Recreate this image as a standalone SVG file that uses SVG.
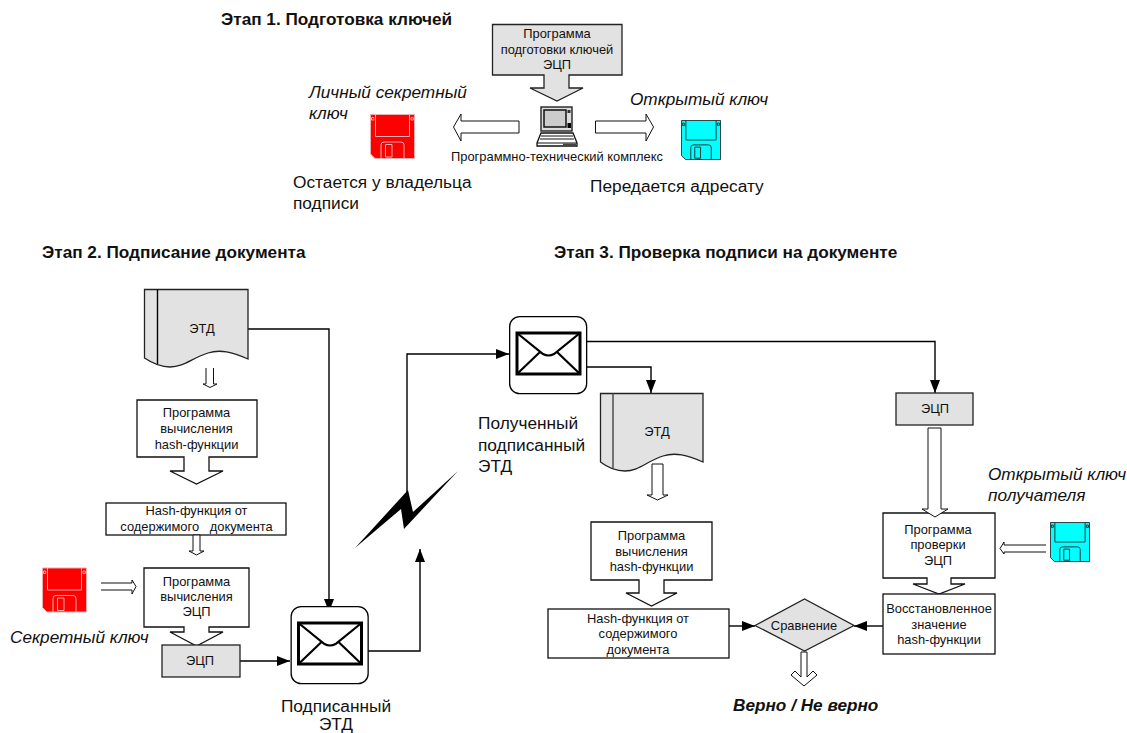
<svg xmlns="http://www.w3.org/2000/svg" width="1127" height="733" viewBox="0 0 1127 733">
<style>
text{font-family:"Liberation Sans",Arial,sans-serif;fill:#111}
.s{font-size:12.9px;text-anchor:middle}
.m{font-size:17.300px}
.i{font-size:17.200px;font-style:italic}
.h{font-size:17.200px;font-weight:bold}
.box{fill:#fff;stroke:#111;stroke-width:1.3}
.grey{fill:#e2e2e2;stroke:#222;stroke-width:1.3}
.ba{fill:#fff;stroke:#111;stroke-width:1}
.line{fill:none;stroke:#000;stroke-width:1.4}
.env{fill:#fff;stroke:#000;stroke-width:1.3}
.envb{fill:none;stroke:#000;stroke-width:2.2}
.envf{fill:none;stroke:#000;stroke-width:3}
</style>
<defs>
<marker id="arr" markerUnits="userSpaceOnUse" markerWidth="14" markerHeight="10" refX="13" refY="5" orient="auto"><path d="M0,0 L13,5 L0,10 Z" fill="#000"/></marker>
<symbol id="floppy" viewBox="0 0 45 45">
<path d="M.5,.5 H44.5 V44.5 H5 L.5,40 Z"/>
<path d="M5.5,.5 V22.5 H39.5 V.5 M11,44.5 V31 Q11,28 14,28 H31 Q34,28 34,31 V44.5 M15.5,30.5 H22 V43 H15.5 Z M1.5,3.5 H3.8 V6 H1.5 Z M41,3.5 H43.3 V6 H41 Z" fill="none"/>
</symbol>
<g id="letter">
<rect x=".65" y=".65" width="77" height="77" rx="10" class="env"/>
<rect x="8" y="17" width="63" height="41" class="envf"/>
<path d="M8,17 L34,38 Q39.500,41 45,38 L71,17 M8,58 L31,36 M71,58 L48,36" class="envb"/>
</g>
</defs>
<rect width="1127" height="733" fill="#fff"/>

<text class="h" x="221" y="25">Этап 1. Подготовка ключей</text>
<text class="h" x="42" y="258">Этап 2. Подписание документа</text>
<text class="h" x="554" y="258">Этап 3. Проверка подписи на документе</text>

<g id="connectors">
<path class="line" marker-end="url(#arr)" d="M248,329 H329 V612"/>
<path class="line" marker-end="url(#arr)" d="M240,661 H290"/>
<path class="line" marker-end="url(#arr)" d="M368,651 H420 V549"/>
<path class="line" marker-end="url(#arr)" d="M407,492 V354 H509"/>
<path class="line" marker-end="url(#arr)" d="M587,341.500 H935 V393"/>
<path class="line" marker-end="url(#arr)" d="M587,367 H651 V393"/>
<path class="line" marker-end="url(#arr)" d="M729,626 H755"/>
<path class="line" marker-end="url(#arr)" d="M883,626 H854"/>
</g>

<g id="keyprog">
<path class="grey" d="M492.500,24.500 H622 V75 H569 V88 H583 L557,101 L530,88 H544 V75 H492.500 Z"/>
<text class="s" x="557" y="38">Программа</text>
<text class="s" x="557" y="54">подготовки ключей</text>
<text class="s" x="557" y="69">ЭЦП</text>
</g>
<g id="computer">
<rect x="541" y="107" width="31" height="24" fill="#ddd" stroke="#222" stroke-width="1.400"/>
<rect x="544" y="110" width="22" height="17" fill="#ccc" stroke="#111" stroke-width="1.500"/>
<rect x="567.500" y="110" width="3" height="3" fill="#333"/>
<rect x="567.500" y="123" width="3.500" height="5" fill="#000"/>
<path d="M541,133 H573 L577,143 V146 H537 V143 Z" fill="#fff" stroke="#111" stroke-width="1.300"/>
<path d="M541,136 H573 M540,139 H574 M537,143 H577" stroke="#111" fill="none"/>
<rect x="563" y="143.500" width="13" height="2.500" fill="#444"/>
<text class="s" x="557" y="161">Программно-технический комплекс</text>
</g>
<polygon id="arrow-left-key" class="ba" points="519,121 461,121 461,114 453.500,127 461,141 461,133 519,133"/>
<polygon id="arrow-right-key" class="ba" points="595.500,121 646,121 646,114 653.500,127 646,141 646,133 595.500,133"/>
<g id="secret-key">
<use href="#floppy" x="370" y="114" width="45" height="45" fill="#f00" stroke="#e8b0b0"/>
<text class="i" x="309" y="98">Личный секретный</text>
<text class="i" x="309" y="119">ключ</text>
<text class="m" x="293" y="188">Остается у владельца</text>
<text class="m" x="293" y="209">подписи</text>
</g>
<g id="open-key">
<use href="#floppy" x="681" y="120" width="40" height="40" fill="#00ffff" stroke="#222"/>
<text class="i" x="630" y="105">Открытый ключ</text>
<text class="m" x="590" y="192">Передается адресату</text>
</g>

<g id="doc1">
<path class="grey" d="M144.500,289.500 H248 V359 C232,352 220,349 208,353 C192,358 184,367 170,367 C160,367 152,363 144.500,358 Z"/>
<path class="line" d="M157.500,289.500 V364"/>
<text class="s" x="202" y="333">ЭТД</text>
</g>
<path id="arrow-doc1" class="ba" d="M206,368 V384 H203 L210,387.500 L217,384 H213.500 V368 M206,368"/>
<g id="hash-prog1">
<path class="box" d="M137,400 H257 V457 H209 V471 H223 L196.500,484 L170,471 H184 V457 H137 Z"/>
<text class="s" x="196.500" y="417">Программа</text>
<text class="s" x="196.500" y="433">вычисления</text>
<text class="s" x="196.500" y="449">hash-функции</text>
</g>
<g id="hash1">
<rect class="box" x="106" y="503" width="180" height="32"/>
<text class="s" x="196.500" y="515">Hash-функция от</text>
<text class="s" x="196.500" y="531" xml:space="preserve">содержимого   документа</text>
</g>
<polygon id="arrow-hash1" class="ba" points="193,535 200,535 200,551 204,551 196.500,555 189,551 193,551"/>
<g id="secret-key2">
<use href="#floppy" x="42" y="567" width="45" height="46" fill="#f00" stroke="#e8b0b0"/>
<text class="i" x="10" y="643">Секретный ключ</text>
</g>
<path id="arrow-secret" class="ba" d="M101,583 H132 V580 L136,586.500 L132,594 V590 H101"/>
<g id="ecp-prog">
<path class="box" d="M144,568 H249 V627 H209 V632 H223 L196.500,646 L170,632 H184 V627 H144 Z"/>
<text class="s" x="196.500" y="586">Программа</text>
<text class="s" x="196.500" y="601">вычисления</text>
<text class="s" x="196.500" y="616">ЭЦП</text>
</g>
<g id="ecp1">
<rect class="grey" x="162" y="645" width="78" height="32"/>
<text class="s" x="200" y="665">ЭЦП</text>
</g>
<g id="signed">
<use href="#letter" x="290.500" y="606"/>
<text class="m" x="336" y="712" text-anchor="middle">Подписанный</text>
<text class="m" x="336" y="730" text-anchor="middle">ЭТД</text>
</g>
<polygon id="lightning" points="355,548 408,490 413,512 458,471 404,529 401,509" fill="#000"/>

<g id="received">
<use href="#letter" x="509" y="316"/>
<text class="m" x="478" y="429">Полученный</text>
<text class="m" x="478" y="451">подписанный</text>
<text class="m" x="478" y="472">ЭТД</text>
</g>
<g id="doc2">
<path class="grey" d="M600.500,393.500 H703 V462 C687,455 675,452 663,456 C647,461 639,471 625,471 C615,471 607,467 600.500,462 Z"/>
<path class="line" style="stroke:#444" d="M613,393.500 V468"/>
<text class="s" x="657" y="436">ЭТД</text>
</g>
<polygon id="arrow-doc2" class="ba" points="652,464 663,464 663,495 668,495 657.500,500 647,495 652,495"/>
<g id="hash-prog2">
<path class="box" d="M591,522 H712 V580 H664 V593 H677 L651.500,606 L626,593 H639 V580 H591 Z"/>
<text class="s" x="651.500" y="540">Программа</text>
<text class="s" x="651.500" y="556">вычисления</text>
<text class="s" x="651.500" y="571">hash-функции</text>
</g>
<g id="hash2">
<rect class="box" x="548" y="609" width="181" height="49"/>
<text class="s" x="638" y="623">Hash-функция от</text>
<text class="s" x="638" y="638">содержимого</text>
<text class="s" x="638" y="654">документа</text>
</g>
<g id="compare">
<polygon class="grey" points="755,625.500 804.500,599 854,625.500 804.500,651"/>
<text class="s" x="804" y="630">Сравнение</text>
</g>
<polygon id="arrow-result" class="ba" points="801,652 807,652 807,677 813,671 817,675 804,686 791,675 795,671 801,677"/>
<text id="result" x="733" y="711" font-size="17.200" font-weight="bold" font-style="italic">Верно / Не верно</text>

<g id="ecp2">
<rect class="grey" x="896" y="393" width="77" height="32"/>
<text class="s" x="935" y="413">ЭЦП</text>
</g>
<g id="verify-prog">
<path class="box" d="M883,513 H995 V578 H951 V584 H965 L939,594 L913,584 H927 V578 H883 Z"/>
<text class="s" x="938" y="534">Программа</text>
<text class="s" x="938" y="549">проверки</text>
<text class="s" x="938" y="565">ЭЦП</text>
</g>
<polygon id="arrow-ecp2" class="ba" points="928,428 941,428 941,509 948,509 935,517 922,509 928,509"/>
<g id="restored">
<rect class="box" x="883" y="594" width="112" height="60"/>
<text class="s" x="939" y="613">Восстановленное</text>
<text class="s" x="939" y="629">значение</text>
<text class="s" x="939" y="644">hash-функции</text>
</g>
<g id="open-key2">
<use href="#floppy" x="1050" y="522" width="40" height="40" fill="#00ffff" stroke="#222"/>
<text class="i" x="988" y="480">Открытый ключ</text>
<text class="i" x="988" y="501">получателя</text>
</g>
<path id="arrow-open" class="ba" d="M1046,545 H1004 V542 L1000,548.500 L1004,554 V552 H1046"/>
</svg>
